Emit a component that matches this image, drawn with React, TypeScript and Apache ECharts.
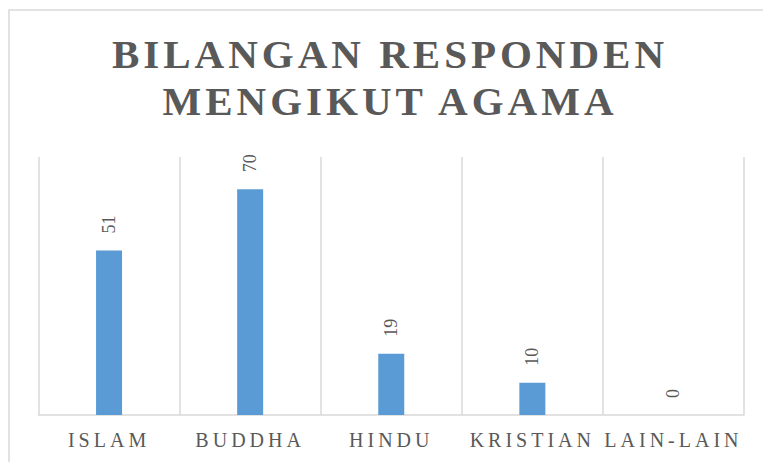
import React, { useEffect, useRef } from "react";
import * as echarts from "echarts";

const categories = ["ISLAM", "BUDDHA", "HINDU", "KRISTIAN", "LAIN-LAIN"];
const values = [51, 70, 19, 10, 0];
const titleLines = ["BILANGAN RESPONDEN", "MENGIKUT AGAMA"];

const SERIF = "Liberation Serif, serif";
const TEXT = "#595959";
const GRID = "#d9d9d9";

export default function App() {
  const ref = useRef<HTMLDivElement>(null);

  useEffect(() => {
    if (!ref.current) return;
    const chart = echarts.init(ref.current, null, { renderer: "svg" });
    chart.setOption({
      animation: false,
      backgroundColor: "#ffffff",
      graphic: [
        {
          type: "rect",
          z: -1,
          shape: { x: 9, y: 10, width: 800, height: 500 },
          style: { fill: "none", stroke: GRID, lineWidth: 1.5 },
          silent: true,
        },
        {
          type: "text",
          x: 390,
          y: 30,
          silent: true,
          style: {
            text: titleLines.join("\n"),
            align: "center",
            verticalAlign: "top",
            fontFamily: SERIF,
            fontSize: 41,
            fontWeight: "bold",
            fill: TEXT,
            lineHeight: 47.5,
          },
        },
      ],
      grid: { left: 38.5, right: 19, top: 157, bottom: 47 },
      xAxis: {
        type: "category",
        data: categories,
        boundaryGap: true,
        axisLine: { show: true, lineStyle: { color: GRID, width: 1.5 } },
        axisTick: { show: false },
        axisLabel: {
          fontFamily: SERIF,
          fontSize: 20,
          color: TEXT,
          margin: 15,
          interval: 0,
        },
        splitLine: { show: true, interval: 0, lineStyle: { color: GRID, width: 1.5 } },
      },
      yAxis: {
        type: "value",
        min: 0,
        max: 80,
        show: false,
        splitLine: { show: false },
      },
      series: [
        {
          type: "bar",
          data: values,
          barWidth: 26,
          itemStyle: { color: "#5b9bd5" },
          label: {
            show: true,
            position: "top",
            distance: 17,
            rotate: 90,
            align: "left",
            verticalAlign: "middle",
            fontFamily: SERIF,
            fontSize: 18,
            color: TEXT,
          },
        },
      ],
    });
    return () => chart.dispose();
  }, []);

  return (
    <>
      <style>{`
        #root svg text[style*="41px"] { letter-spacing: 4px; }
        #root svg text[style*="20px"] { letter-spacing: 4px; }
      `}</style>
      <div
        ref={ref}
        style={{ position: "fixed", left: 0, top: 0, width: 763, height: 462 }}
      />
    </>
  );
}
